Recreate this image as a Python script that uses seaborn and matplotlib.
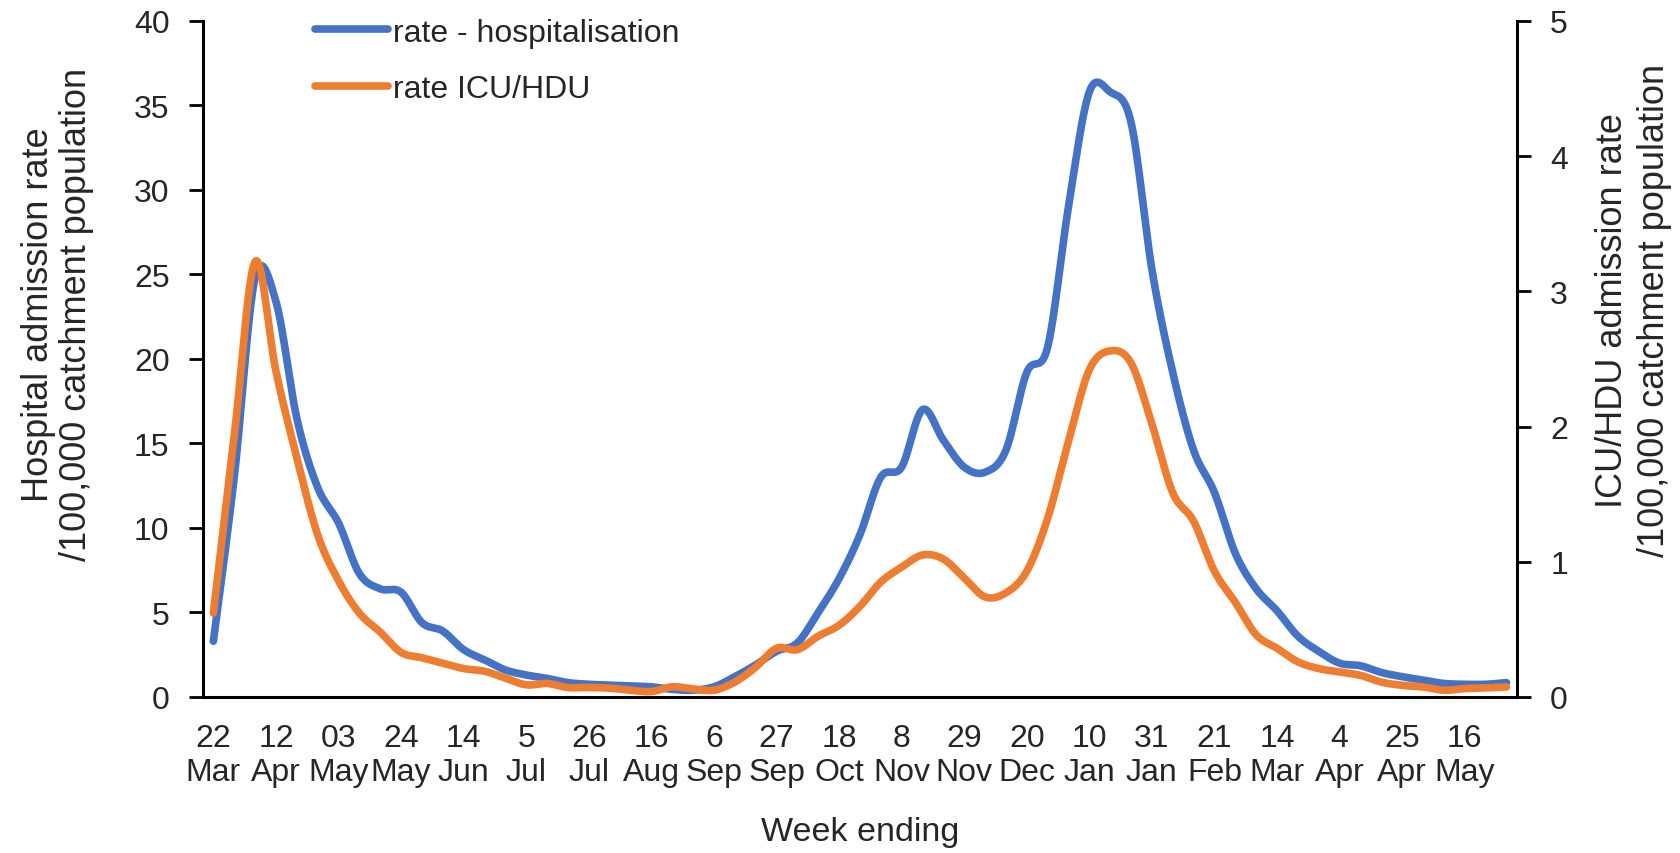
import numpy as np
import pandas as pd
import matplotlib
matplotlib.use("Agg")
import matplotlib.pyplot as plt
import seaborn as sns

# Weekly admission rates per 100,000 catchment population, week ending 22 Mar 2020 to 30 May 2021
week_index = list(range(63))

hosp_rate = [3.3, 13.0, 24.8, 23.4, 16.5, 12.4, 10.3, 7.3, 6.4, 6.2,
             4.4, 3.9, 2.8, 2.2, 1.6, 1.3, 1.1, 0.85, 0.75, 0.7,
             0.65, 0.6, 0.45, 0.4, 0.6, 1.2, 1.9, 2.7, 3.2, 5.0,
             7.0, 9.6, 13.0, 13.6, 17.0, 15.2, 13.6, 13.3, 14.6, 19.2,
             20.7, 29.0, 35.8, 35.8, 34.0, 25.3, 19.2, 14.6, 12.1, 8.5,
             6.4, 5.1, 3.6, 2.7, 2.0, 1.85, 1.45, 1.2, 1.0, 0.8,
             0.75, 0.75, 0.85]

icu_rate = [0.62, 1.93, 3.22, 2.41, 1.77, 1.20, 0.86, 0.62, 0.48, 0.33,
            0.29, 0.25, 0.21, 0.19, 0.14, 0.09, 0.10, 0.07, 0.07, 0.065,
            0.05, 0.04, 0.075, 0.06, 0.05, 0.11, 0.22, 0.36, 0.35, 0.45,
            0.53, 0.67, 0.85, 0.96, 1.05, 1.02, 0.88, 0.74, 0.77, 0.93,
            1.32, 1.89, 2.42, 2.56, 2.47, 2.02, 1.51, 1.30, 0.93, 0.70,
            0.46, 0.36, 0.26, 0.21, 0.185, 0.16, 0.11, 0.086, 0.074, 0.05,
            0.062, 0.067, 0.074]

tick_days = ["22", "12", "03", "24", "14", "5", "26", "16", "6", "27", "18",
             "8", "29", "20", "10", "31", "21", "14", "4", "25", "16"]
tick_months = ["Mar", "Apr", "May", "May", "Jun", "Jul", "Jul", "Aug", "Sep", "Sep", "Oct",
               "Nov", "Nov", "Dec", "Jan", "Jan", "Feb", "Mar", "Apr", "Apr", "May"]

BLUE = "#4472C4"
ORANGE = "#ED7D31"


def smoothed(x, y, steps=24):
    """Catmull-Rom (Bezier 1/6) smoothing of a polyline, like a spreadsheet smoothed line."""
    x = np.asarray(x, float)
    y = np.asarray(y, float)
    px = np.concatenate([[x[0]], x, [x[-1]]])
    py = np.concatenate([[y[0]], y, [y[-1]]])
    t = np.linspace(0, 1, steps, endpoint=False)
    xs, ys = [], []
    for i in range(1, len(px) - 2):
        p0x, p1x, p2x, p3x = px[i - 1], px[i], px[i + 1], px[i + 2]
        p0y, p1y, p2y, p3y = py[i - 1], py[i], py[i + 1], py[i + 2]
        b1x, b1y = p1x + (p2x - p0x) / 6, p1y + (p2y - p0y) / 6
        b2x, b2y = p2x - (p3x - p1x) / 6, p2y - (p3y - p1y) / 6
        u = 1 - t
        xs.append(u**3 * p1x + 3 * u**2 * t * b1x + 3 * u * t**2 * b2x + t**3 * p2x)
        ys.append(u**3 * p1y + 3 * u**2 * t * b1y + 3 * u * t**2 * b2y + t**3 * p2y)
    xs.append([x[-1]])
    ys.append([y[-1]])
    return pd.DataFrame({"week": np.concatenate(xs), "rate": np.concatenate(ys)})


sns.set_style("white")
plt.rcParams["font.family"] = ["Liberation Sans", "DejaVu Sans"]

fig = plt.figure(figsize=(16.8, 8.54), dpi=100)
ax = fig.add_axes([0.1208, 0.1827, 0.7821, 0.7916])
ax2 = ax.twinx()

hosp_df = smoothed(week_index, hosp_rate)
icu_df = smoothed(week_index, icu_rate)

LW = 5.5
sns.lineplot(data=hosp_df, x="week", y="rate", ax=ax, color=BLUE, linewidth=LW,
             sort=False, estimator=None, label="rate - hospitalisation", legend=False)
sns.lineplot(data=icu_df, x="week", y="rate", ax=ax2, color=ORANGE, linewidth=LW,
             sort=False, estimator=None, label="rate ICU/HDU", legend=False)

ax.set_xlim(-0.5, 62.5)
ax.set_ylim(0, 40)
ax2.set_ylim(0, 5)
ax.set_yticks(np.arange(0, 41, 5))
ax2.set_yticks(np.arange(0, 6, 1))

# category boundaries carry the tick marks, every third week carries a label
ax.set_xticks(np.arange(-0.5, 63, 1))
ax.set_xticklabels([])
ax.set_xticks(np.arange(0, 61, 3), minor=True)
ax.set_xticklabels([f"{d}\n{m}" for d, m in zip(tick_days, tick_months)], minor=True,
                   linespacing=1.16)

TICK_FS = 23
ax.tick_params(axis="x", which="major", direction="out", length=10, width=2, color="black")
ax.tick_params(axis="x", which="minor", length=0, pad=19, labelsize=TICK_FS)
ax.tick_params(axis="y", direction="out", length=10, width=2, color="black",
               labelsize=TICK_FS, pad=14, left=True)
ax2.tick_params(axis="y", direction="out", length=10, width=2, color="black",
                labelsize=TICK_FS, pad=14, right=True)

for a in (ax, ax2):
    a.spines["top"].set_visible(False)
    for side in ("left", "bottom", "right"):
        a.spines[side].set_color("black")
        a.spines[side].set_linewidth(2.2)
ax.spines["right"].set_visible(False)
ax2.spines["left"].set_visible(False)
ax2.spines["bottom"].set_visible(False)
ax.grid(False)
ax2.grid(False)

ax.set_xlabel("Week ending", fontsize=24.5)
ax.xaxis.set_label_coords(0.5, -0.176)
ax.set_ylabel("Hospital admission rate\n/100,000 catchment population", fontsize=26,
              va="center", ha="center", multialignment="center", linespacing=1.1)
ax.yaxis.set_label_coords(-0.1107, 0.567)
ax2.set_ylabel("ICU/HDU admission rate\n/100,000 catchment population", fontsize=26,
               va="center", ha="center", multialignment="center", linespacing=1.25,
               rotation=90)
ax2.yaxis.set_label_coords(1.089, 0.573)

handles = ax.get_lines()[:1] + ax2.get_lines()[:1]
ax.legend(handles, ["rate - hospitalisation", "rate ICU/HDU"], loc="upper left",
          bbox_to_anchor=(0.0755, 1.024), frameon=False, fontsize=23,
          handlelength=2.3, handletextpad=0.15, labelspacing=0.82, borderaxespad=0)

fig.savefig("out.png", dpi=100, facecolor="white")
